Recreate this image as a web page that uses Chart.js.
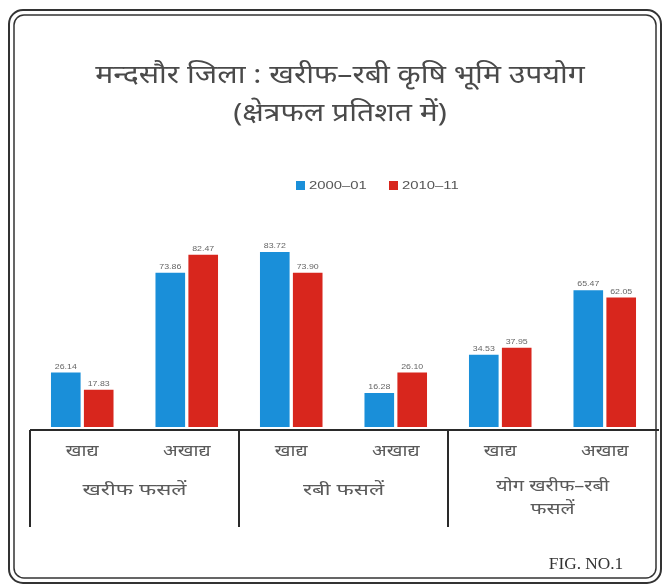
<!DOCTYPE html>
<html>
<head>
<meta charset="utf-8">
<script src="https://cdn.jsdelivr.net/npm/chart.js@4.4.1/dist/chart.umd.min.js"></script>
<style>
  html, body { margin: 0; padding: 0; background: #fff; }
  #wrap { width: 665px; height: 587px; position: relative; }
</style>
</head>
<body>
<div id="wrap"><canvas id="c" width="665" height="587"></canvas></div>
<script>
// Land-use shares (% of area) for Kharif and Rabi crops, Mandsaur district
const categories = ['खाद्य', 'अखाद्य', 'खाद्य', 'अखाद्य', 'खाद्य', 'अखाद्य'];
const groups = [['खरीफ फसलें'], ['रबी फसलें'], ['योग खरीफ–रबी', 'फसलें']];
const seriesNames = ['2000–01', '2010–11'];
const values2000 = [26.14, 73.86, 83.72, 16.28, 34.53, 65.47];
const values2010 = [17.83, 82.47, 73.90, 26.10, 37.95, 62.05];
const titleLines = ['मन्दसौर जिला : खरीफ–रबी कृषि भूमि उपयोग', '(क्षेत्रफल प्रतिशत में)'];
const figLabel = 'FIG. NO.1';

const BLUE = '#1a8fd9';
const RED = '#d8261d';
const INK = '#4a4a4a';
const DEVA = '"Noto Sans", "Lohit Devanagari", "FreeSans", sans-serif';
const SANS = '"Liberation Sans", Arial, sans-serif';

// text drawn centred on x, stretched horizontally by sx
function wideText(ctx, text, x, y, sx) {
  ctx.save();
  ctx.translate(x, y);
  ctx.scale(sx, 1);
  ctx.textAlign = 'center';
  ctx.fillText(text, 0, 0);
  ctx.restore();
}

const decor = {
  id: 'decor',
  beforeDraw(chart) {
    const ctx = chart.ctx;
    ctx.save();
    ctx.fillStyle = '#fff';
    ctx.fillRect(0, 0, chart.width, chart.height);
    // double rounded frame
    ctx.strokeStyle = '#333';
    ctx.lineWidth = 2;
    ctx.beginPath(); ctx.roundRect(9, 10, 652, 573, 14); ctx.stroke();
    ctx.lineWidth = 1.5;
    ctx.beginPath(); ctx.roundRect(14, 15, 642, 563, 10); ctx.stroke();
    ctx.restore();
  },
  afterDraw(chart) {
    const ctx = chart.ctx;
    const x = chart.scales.x;
    const area = chart.chartArea;
    ctx.save();
    // title
    ctx.fillStyle = INK;
    ctx.textBaseline = 'middle';
    ctx.font = '26px ' + DEVA;
    wideText(ctx, titleLines[0], 340, 76, 1.16);
    wideText(ctx, titleLines[1], 340, 114, 1.16);

    // legend
    ctx.font = '11px ' + SANS;
    const lx = [296, 389];
    chart.data.datasets.forEach((ds, i) => {
      ctx.fillStyle = ds.backgroundColor;
      ctx.fillRect(lx[i], 181, 9, 9);
      ctx.fillStyle = '#555';
      const w = ctx.measureText(ds.label).width * 1.35;
      wideText(ctx, ds.label, lx[i] + 13 + w / 2, 186, 1.35);
    });

    // value labels above bars
    ctx.font = '8px ' + SANS;
    ctx.fillStyle = '#666';
    ctx.textBaseline = 'bottom';
    chart.data.datasets.forEach((ds, di) => {
      chart.getDatasetMeta(di).data.forEach((bar, i) => {
        wideText(ctx, ds.data[i].toFixed(2), bar.x, bar.y - 2, 1.1);
      });
    });

    // grouped category axis
    const step = x.getPixelForValue(1) - x.getPixelForValue(0);
    const axisY = area.bottom + 3;
    ctx.strokeStyle = '#2a2a2a';
    ctx.lineWidth = 2;
    ctx.beginPath();
    ctx.moveTo(area.left, axisY);
    ctx.lineTo(area.right + 2, axisY);
    [0, 2, 4].forEach(i => {
      const bx = x.getPixelForValue(i) - step / 2;
      ctx.moveTo(bx, axisY);
      ctx.lineTo(bx, axisY + 97);
    });
    ctx.stroke();

    ctx.fillStyle = '#5a5a5a';
    ctx.textBaseline = 'middle';
    ctx.font = '16px ' + DEVA;
    categories.forEach((c, i) => {
      wideText(ctx, c, x.getPixelForValue(i), 451, 1.2);
    });
    ctx.font = '16px ' + DEVA;
    groups.forEach((g, gi) => {
      const cx = (x.getPixelForValue(gi * 2) + x.getPixelForValue(gi * 2 + 1)) / 2;
      if (g.length === 1) {
        wideText(ctx, g[0], cx, 490, 1.4);
      } else {
        wideText(ctx, g[0], cx, 486, 1.25);
        wideText(ctx, g[1], cx, 509, 1.3);
      }
    });

    // figure number
    ctx.font = '16px "Liberation Serif", "Times New Roman", serif';
    ctx.fillStyle = '#333';
    wideText(ctx, figLabel, 586, 565, 1.08);
    ctx.restore();
  }
};

new Chart(document.getElementById('c'), {
  type: 'bar',
  data: {
    labels: categories,
    datasets: [
      { label: seriesNames[0], data: values2000, backgroundColor: BLUE },
      { label: seriesNames[1], data: values2010, backgroundColor: RED }
    ]
  },
  options: {
    responsive: false,
    animation: false,
    devicePixelRatio: 1,
    layout: { padding: { left: 30, right: 8, top: 239, bottom: 160 } },
    datasets: { bar: { categoryPercentage: 0.63, barPercentage: 0.9 } },
    scales: {
      x: { display: false },
      y: { display: false, min: 0, max: 90 }
    },
    plugins: { legend: { display: false }, title: { display: false }, tooltip: { enabled: false } }
  },
  plugins: [decor]
});
</script>
</body>
</html>
